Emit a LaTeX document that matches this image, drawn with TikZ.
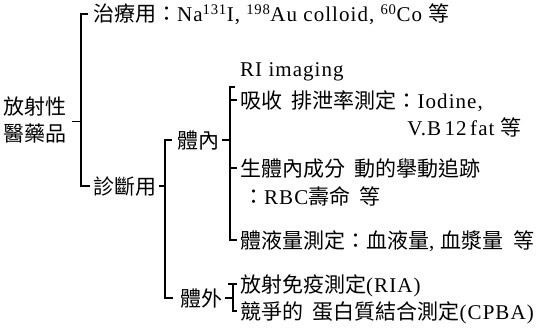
\documentclass[tikz,border=0pt]{standalone}
\usepackage{fontspec}
\setmainfont{Liberation Serif}[LetterSpace=5]
\newfontfamily\cjk{Noto Sans CJK TC}
\newcommand\cj[1]{{\cjk #1}}
\newcommand\gap{\hspace{.45em}}
\usetikzlibrary{calc}
\begin{document}
\begin{tikzpicture}[x=1pt,y=-1pt,
  lbl/.style={inner sep=0pt,anchor=west,text height=17pt,text depth=1pt,font=\fontsize{21}{24}\selectfont},
  br/.style={line width=1.3pt,black}]
\useasboundingbox (0,0) rectangle (537,329);
% nodes
\node[inner sep=0pt,align=center,font=\fontsize{21}{27}\selectfont\cjk] (root) at (35,119.5) {放射性\\醫藥品};
\node[lbl] (treat) at (93,14) {\cj{治療用：}Na\textsuperscript{131}I, \textsuperscript{198}Au colloid, \textsuperscript{60}Co \cj{等}};
\node[lbl] (diag) at (93,186) {\cj{診斷用}};
\node[lbl] (tainai) at (177,140) {\cj{體內}};
\node[lbl] (taigai) at (180,298) {\cj{體外}};
\node[lbl] (ri) at (240,68) {RI imaging};
\node[lbl] (kyu) at (240,100) {\cj{吸收\gap 排泄率測定：}Iodine,};
\node[lbl,anchor=east] (vb) at (522,127) {V.B\,12\,fat \cj{等}};
\node[lbl] (sei) at (240,168) {\cj{生體內成分\gap 動的擧動追跡}};
\node[lbl] (rbc) at (243,196) {\cj{：}RBC\cj{壽命\gap 等}};
\node[lbl] (tai) at (240,240) {\cj{體液量測定：血液量}, \cj{血漿量\gap 等}};
\node[lbl] (ria) at (240,284) {\cj{放射免疫測定}(RIA)};
\node[lbl] (cpba) at (240,311) {\cj{競爭的\gap 蛋白質結合測定}(CPBA)};
% bracket 1
\coordinate (b1) at (81,0);
\draw[br] ($(treat.west)+(-5,0)$) -| (b1 |- diag.west) -- ($(diag.west)+(-3,0)$);
\draw[br] ($(root.east)+(5,2)$) -- ($(root.east -| b1)+(0,2)$);
% bracket 2
\coordinate (b2) at (165,0);
\draw[br] ($(tainai.west)+(-5,0)$) -| (b2 |- taigai.west) -- ($(taigai.west)+(-7,0)$);
\draw[br] ($(diag.east)+(3,0)$) -- (diag.east -| b2);
% bracket 3
\coordinate (b3) at (230,87);
\draw[br] ($(b3)+(5,0)$) -- (b3) -- (b3 |- tai.west) -- ($(tai.west)+(-3,0)$);
\draw[br] (b3 |- kyu.west) -- ($(kyu.west)+(-3,0)$);
\draw[br] (b3 |- sei.west) -- ($(sei.west)+(-3,0)$);
\draw[br] ($(tainai.east)+(3,0)$) -- (tainai.east -| b3);
% bracket 4
\coordinate (b4) at (233,0);
\draw[br] ($(b4 |- ria.west)+(-5,0)$) -- ($(ria.west)+(-3,0)$);
\draw[br] (b4 |- ria.west) -- (b4 |- cpba.west) -- ($(cpba.west)+(-3,0)$);
\draw[br] ($(taigai.east)+(3,0)$) -- (taigai.east -| b4);
\end{tikzpicture}
\end{document}
